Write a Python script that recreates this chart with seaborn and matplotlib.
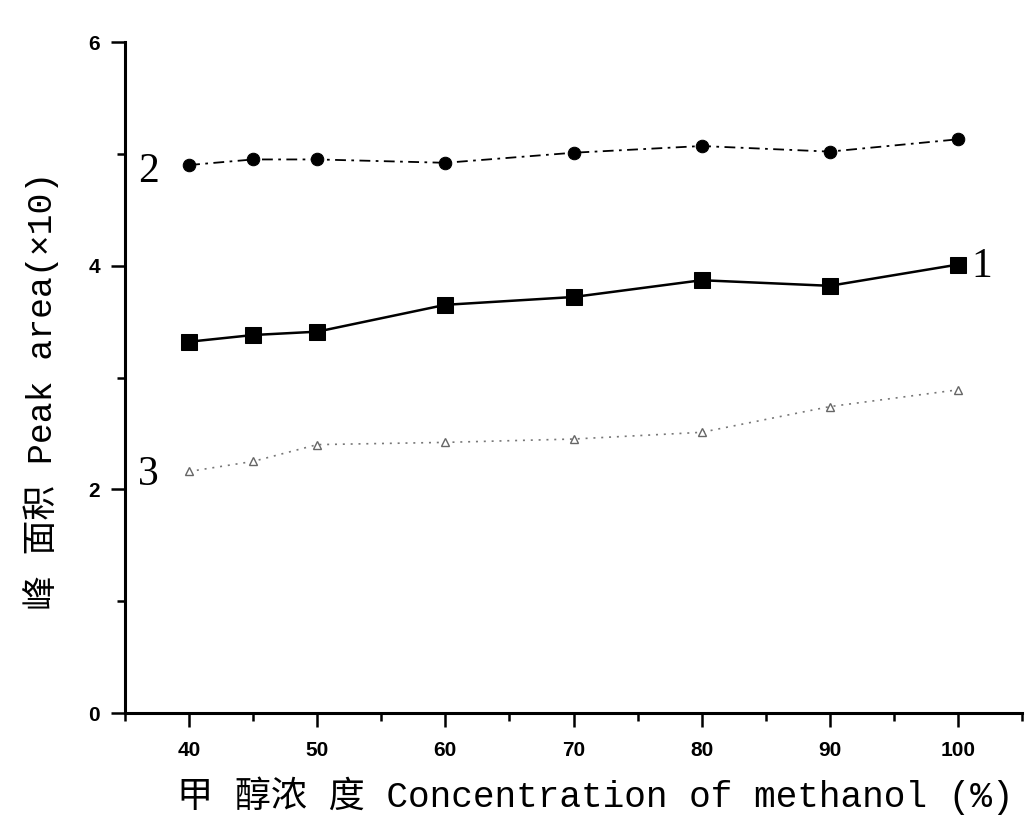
import matplotlib
matplotlib.use("Agg")
import matplotlib.pyplot as plt
from matplotlib.ticker import MultipleLocator
import seaborn as sns
import pandas as pd

# Methanol concentration (%) and peak areas of the three compounds
concentration = [40, 45, 50, 60, 70, 80, 90, 100]
peak_area_1 = [3.32, 3.38, 3.41, 3.65, 3.72, 3.87, 3.82, 4.01]
peak_area_2 = [4.90, 4.95, 4.95, 4.92, 5.01, 5.07, 5.02, 5.13]
peak_area_3 = [2.16, 2.25, 2.40, 2.42, 2.45, 2.51, 2.74, 2.89]
curve_labels = ["1", "2", "3"]

sns.set_theme(style="ticks")
plt.rcParams["font.family"] = ["Liberation Mono", "Noto Sans CJK SC", "DejaVu Sans"]

df = pd.DataFrame({
    "conc": concentration * 3,
    "area": peak_area_1 + peak_area_2 + peak_area_3,
    "curve": [curve_labels[0]] * 8 + [curve_labels[1]] * 8 + [curve_labels[2]] * 8,
})

fig = plt.figure(figsize=(10.3, 8.19), dpi=100)
ax = fig.add_axes([0.1214, 0.1294, 0.8708, 0.8193])

# curve 1: solid line with filled squares
sns.lineplot(data=df[df.curve == "1"], x="conc", y="area", ax=ax,
             color="black", linewidth=1.8, marker="s", markersize=12,
             markeredgecolor="black", markerfacecolor="black")
# curve 2: dash-dot line with filled circles
sns.lineplot(data=df[df.curve == "2"], x="conc", y="area", ax=ax,
             color="black", linewidth=1.3, linestyle=(0, (6, 3, 1.5, 3)),
             marker="o", markersize=9, markeredgecolor="black",
             markerfacecolor="black")
# curve 3: faint dotted line with small open triangles
sns.lineplot(data=df[df.curve == "3"], x="conc", y="area", ax=ax,
             color="#777777", linewidth=1.2, linestyle=(0, (1.2, 3.5)),
             marker="^", markersize=6, markeredgecolor="#666666",
             markerfacecolor="white", markeredgewidth=1.0)

ax.set_xlim(35, 105)
ax.set_ylim(0, 6)
ax.xaxis.set_minor_locator(MultipleLocator(5))
ax.yaxis.set_major_locator(MultipleLocator(2))
ax.yaxis.set_minor_locator(MultipleLocator(1))
ax.set_xticks(concentration[:1] + concentration[2:])
ax.set_xticklabels([str(c) for c in concentration[:1] + concentration[2:]])

for side in ["top", "right"]:
    ax.spines[side].set_visible(False)
for side in ["left", "bottom"]:
    ax.spines[side].set_linewidth(2.2)
    ax.spines[side].set_color("black")

ax.tick_params(axis="both", which="major", direction="out", length=10,
               width=1.8, color="black")
ax.tick_params(axis="both", which="minor", direction="out", length=6,
               width=1.8, color="black")
ax.tick_params(axis="x", which="major", pad=10)
ax.tick_params(axis="y", which="major", pad=8)
for lab in ax.get_xticklabels() + ax.get_yticklabels():
    lab.set_fontfamily("Liberation Sans")
    lab.set_fontweight("bold")
    lab.set_fontsize(15)
    lab.set_color("black")

ax.set_xlabel("甲 醇浓 度 Concentration of methanol (%)", fontsize=26,
              color="black")
ax.set_ylabel("峰 面积 Peak area(×10)", fontsize=25, color="black")
ax.xaxis.set_label_coords(0.524, -0.094)
ax.yaxis.set_label_coords(-0.074, 0.48)

# curve numbers beside the lines
label_font = dict(family="Liberation Serif", fontsize=30, color="black",
                  va="center", ha="center")
ax.text(36.8, 4.84, curve_labels[1], **label_font)
ax.text(101.9, 3.99, curve_labels[0], **label_font)
ax.text(36.8, 2.13, curve_labels[2], **label_font)

ax.set_facecolor("white")
fig.patch.set_facecolor("white")
fig.savefig("out.png", dpi=100, facecolor="white")
